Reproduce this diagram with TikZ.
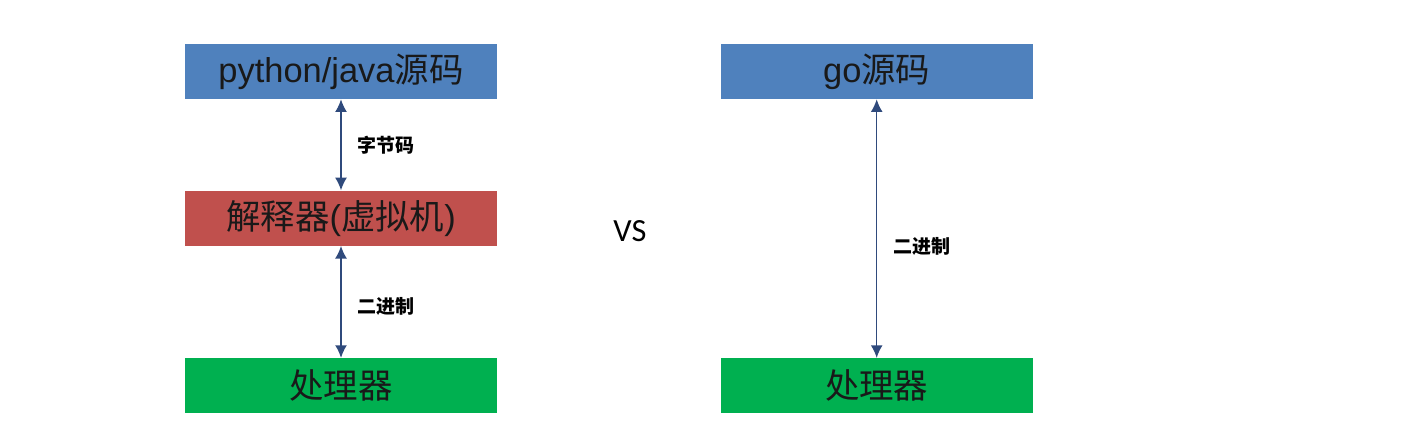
\documentclass[tikz,border=0pt]{standalone}
\usepackage{fontspec}
\setmainfont{Liberation Sans}
\newfontfamily\cjk{Noto Sans CJK SC}
\newfontfamily\vsfont{Carlito}
\usetikzlibrary{positioning, arrows.meta}

\definecolor{srcblue}{HTML}{4F81BD}
\definecolor{vmred}{HTML}{C0504D}
\definecolor{cpugreen}{HTML}{00B050}
\definecolor{linknavy}{HTML}{2F4A7C}

\begin{document}
\begin{tikzpicture}[
    x=0.025cm, y=-0.025cm,
    stage box/.style={
      rectangle,
      draw=none,
      minimum width=7.8cm,
      minimum height=1.375cm,
      inner sep=0pt,
      text=black!90,
      font=\fontsize{24.5}{28}\selectfont
    },
    src box/.style={stage box, fill=srcblue},
    vm box/.style={stage box, fill=vmred},
    cpu box/.style={stage box, fill=cpugreen},
    link arrow/.style={
      {Latex[length=9pt,width=8.5pt]}-{Latex[length=9pt,width=8.5pt]},
      line width=1.1pt,
      color=linknavy
    },
    link label/.style={
      font=\cjk\bfseries\fontsize{13.5}{16}\selectfont,
      text=black
    }
  ]

    \useasboundingbox (0,0) rectangle (1416,430);

    % left column
    \node[src box] (pysrc) at (341,71.5) {python/java{\cjk 源码}};
    \node[vm box, below=2.275cm of pysrc] (vm) {{\cjk 解释器}({\cjk 虚拟机})};
    \node[cpu box, below=2.8cm of vm] (pycpu) {\cjk 处理器};

    % right column
    \node[src box, right=5.575cm of pysrc] (gosrc) {go{\cjk 源码}};
    \node[cpu box, right=5.575cm of pycpu] (gocpu) {\cjk 处理器};

    \node[font=\vsfont\fontsize{23}{26}\selectfont] (vs) at (630,231) {VS};

    \draw[link arrow] (pysrc) -- (vm)
      node[midway, right=8pt, link label] {字节码};
    \draw[link arrow] (vm) -- (pycpu)
      node[midway, right=8pt, link label, yshift=-3pt] {二进制};
    \draw[link arrow] (gosrc) -- (gocpu)
      node[pos=0.57, right=8pt, link label] {二进制};

  \end{tikzpicture}
\end{document}
